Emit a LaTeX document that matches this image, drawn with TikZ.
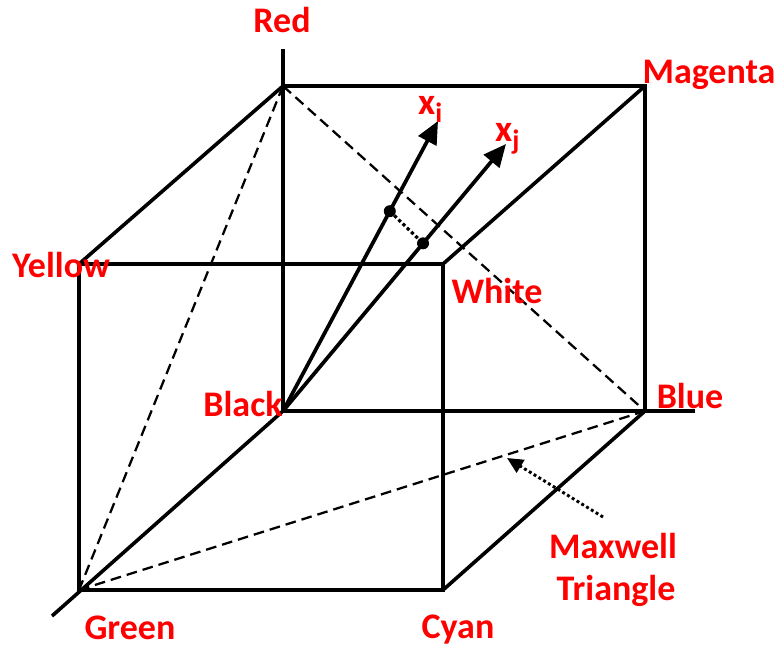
\documentclass[tikz,border=0pt]{standalone}
\usepackage{fontspec}
\setmainfont{Carlito}
\usetikzlibrary{arrows.meta,calc}
\newcommand{\mysub}[1]{\raisebox{-6pt}{\fontsize{21}{23}\selectfont\bfseries #1}}
\begin{document}
\begin{tikzpicture}[x=0.75pt,y=-0.75pt,
  edge/.style={line width=2.7pt},
  diag/.style={line width=1.7pt, dash pattern=on 8pt off 4.5pt},
  lbl/.style={text=red, font=\fontsize{27}{31.5}\selectfont\bfseries, inner sep=0pt, anchor=base},
  sublbl/.style={text=red, font=\fontsize{28}{30}\selectfont\bfseries, inner sep=0pt, anchor=base west},
  vec/.style={line width=2.8pt, -{Triangle[length=17pt,width=15pt]}},
  dotpt/.style={circle, fill=black, inner sep=0pt, minimum size=9pt},
  pointer/.style={line width=2.2pt, dotted, -{Triangle[length=12pt,width=11pt]}}]
\useasboundingbox (0,0) rectangle (778,649);
% cube vertices
\coordinate (K) at (283,411);
\coordinate (R) at (283,86);
\coordinate (M) at (645,86);
\coordinate (B) at (645,411);
\coordinate (Y) at (79,264);
\coordinate (W) at (443,264);
\coordinate (G) at (79,590);
\coordinate (C) at (443,590);
% axis ends
\coordinate (Rax) at (283,49);
\coordinate (Bax) at (695,411);
\coordinate (Gax) at (52,616);
% vector tips
\coordinate (XI) at (438,121);
\coordinate (XJ) at (506,144);
% cube edges and axes
\draw[edge] (Rax) -- (K) -- (Bax);
\draw[edge] (K) -- (Gax);
\draw[edge] (R) -- (M) -- (B);
\draw[edge] (Y) -- (W) -- (C) -- (G) -- cycle;
\draw[edge] (R) -- (Y);
\draw[edge] (M) -- (W);
\draw[edge] (B) -- (C);
% dashed diagonals
\draw[diag] (R) -- (B);
\draw[diag] (R) -- (G);
\draw[diag] (G) -- (B);
% vectors
\draw[vec] (K) -- (XI);
\draw[vec] (K) -- (XJ);
\node[dotpt] (di) at ($(K)!0.689!(XI)$) {};
\node[dotpt] (dj) at ($(K)!0.628!(XJ)$) {};
\draw[line width=2.4pt, dotted] (di) -- (dj);
% pointer to Maxwell triangle
\coordinate (ptS) at (603,517);
\coordinate (ptE) at (507,458);
\draw[pointer] (ptS) -- (ptE);
% labels
\node[lbl] (lRed) at (282,33) {Red};
\node[lbl] (lMag) at (709,84) {Magenta};
\node[lbl] (lBlue) at (690,408) {Blue};
\node[lbl] (lYel) at (61,277) {Yellow};
\node[lbl] (lWhi) at (497,303) {White};
\node[lbl] (lBla) at (243,416) {Black};
\node[lbl] (lGre) at (130,639) {Green};
\node[lbl] (lCya) at (458,638) {Cyan};
\node[lbl] (lMax) at (613,558) {Maxwell};
\node[lbl] (lTri) at (616,600) {Triangle};
\node[sublbl] (lxi) at (418,115) {x\mysub{i}};
\node[sublbl] (lxj) at (495,142) {x\mysub{j}};
\end{tikzpicture}
\end{document}
